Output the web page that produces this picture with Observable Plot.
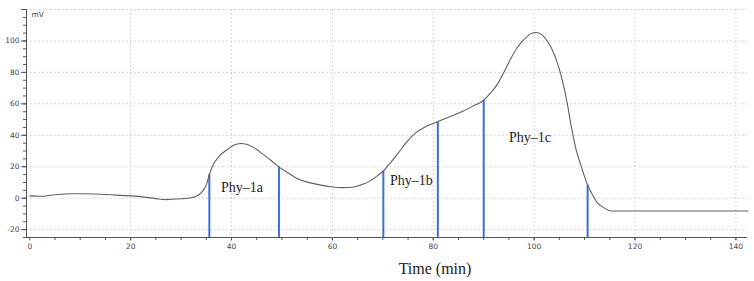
<!DOCTYPE html>
<html>
<head>
<meta charset="utf-8">
<script src="https://cdn.jsdelivr.net/npm/d3@7"></script>
<script src="https://cdn.jsdelivr.net/npm/@observablehq/plot@0.6"></script>
<style>
  html, body { margin: 0; padding: 0; background: #fff; }
  #wrap { position: relative; width: 754px; height: 281px; }
  #xtitle {
    position: absolute; left: 435px; top: 260px; transform: translateX(-50%);
    font-family: "Liberation Serif", serif; font-size: 16px; color: #222; white-space: nowrap;
  }
</style>
</head>
<body>
<div id="wrap">
  <div id="chart"></div>
  <div id="xtitle">Time (min)</div>
</div>
<script>
// Detector trace (retention time in min, signal in mV)
const time = [0, 2, 5, 8, 10, 14, 18, 22, 25, 27, 30, 32, 33, 34, 35, 35.6, 36.5, 37.5, 39, 40.5,
  41.8, 43, 44.5, 46, 48, 49.4, 51, 53, 55, 57, 59.6, 62, 64, 66, 67.5, 69, 70.1, 71.5, 73, 74.8,
  76.5, 78.2, 80, 80.9, 83, 86, 88, 90, 91.5, 92.7, 94, 95.3, 96.5, 98, 99.3, 100.4, 101.5, 102.6,
  103.5, 104.9, 105.8, 106.6, 107.4, 108.3, 109.2, 110.6, 111.5, 112.5, 113.8, 115.2, 142.4];
const signal = [1.5, 1.2, 2.2, 2.8, 2.8, 2.5, 1.8, 1.0, -0.3, -0.9, -0.4, 0.3, 1.2, 3.5, 8.5, 15, 22, 26.5, 30.5, 33.8,
  34.8, 34.3, 32, 28.5, 23.5, 19.9, 16.5, 12.5, 10.2, 8.8, 7.3, 6.7, 7.0, 8.8, 11, 14.5, 17.3, 22.5, 28.5, 36,
  41.5, 45, 47.5, 48.7, 51.5, 55.5, 58.8, 62.3, 67.5, 72.4, 80, 88.3, 95, 101, 104.5, 105.4, 104, 100,
  95, 83, 72, 59.7, 45, 31, 21.6, 8.4, 2.5, -2.8, -6, -8.1, -8.1];

// Fraction cut points and the trace level at each cut
const cutTime = [35.6, 49.4, 70.1, 80.9, 90.0, 110.6];
const cutSignal = [15, 19.9, 17.3, 48.7, 62.3, 8.4];

// Fraction names and where they are written (min, mV)
const fractionName = ["Phy\u20131a", "Phy\u20131b", "Phy\u20131c"];
const fractionTime = [37.9, 71.4, 95.0];
const fractionSignal = [6.5, 11, 38.5];

const xTicksMajor = [0, 20, 40, 60, 80, 100, 120, 140];
const yTicksMajor = [-20, 0, 20, 40, 60, 80, 100, 120];

const trace = time.map((t, i) => ({t, v: signal[i]}));
const cuts = cutTime.map((t, i) => ({t, v: cutSignal[i]}));
const fractions = fractionName.map((name, i) => ({name, t: fractionTime[i], v: fractionSignal[i]}));

const xDomain = [-0.65, 142.3];
const yDomain = [-25, 120];
const tickFont = {fontFamily: "DejaVu Sans, sans-serif", fontSize: 7.5};

const chart = Plot.plot({
  width: 754,
  height: 254,
  marginLeft: 26,
  marginRight: 7,
  marginTop: 9,
  marginBottom: 17,
  x: {domain: xDomain},
  y: {domain: yDomain},
  style: {fontFamily: "DejaVu Sans, sans-serif", fontSize: "7.5px", color: "#444", background: "#fff"},
  marks: [
    Plot.gridX(d3.range(20, 141, 20), {stroke: "#c8c8c8", strokeOpacity: 1, strokeDasharray: "1.5,2.5"}),
    Plot.gridY(d3.range(-20, 121, 20), {stroke: "#c8c8c8", strokeOpacity: 1, strokeDasharray: "1.5,2.5"}),
    // axis lines
    Plot.ruleX([xDomain[0]], {stroke: "#555", strokeWidth: 1}),
    Plot.ruleY([yDomain[0]], {stroke: "#555", strokeWidth: 1}),
    // minor and major ticks
    Plot.axisX({ticks: d3.range(5, 141, 5), tickSize: 3, tickFormat: () => "", stroke: "#555", label: null}),
    Plot.axisX({ticks: xTicksMajor, tickSize: 3.5, tickPadding: 3, stroke: "#555", fill: "#444", label: null, ...tickFont}),
    Plot.axisY({ticks: d3.range(-25, 121, 5), tickSize: 3, tickFormat: () => "", stroke: "#555", label: null}),
    Plot.axisY({ticks: yTicksMajor, tickSize: 5, tickPadding: 2, stroke: "#555", fill: "#444", label: null,
      tickFormat: d => d === 120 ? "" : d, ...tickFont}),
    Plot.text(["mV"], {frameAnchor: "top-left", dx: 5, dy: 2, fill: "#444", fontSize: 7.5, textAnchor: "start"}),
    // fraction cut lines
    Plot.ruleX(cuts, {x: "t", y1: () => yDomain[0], y2: "v", stroke: "#3B6FD6", strokeWidth: 2}),
    // detector trace
    Plot.line(trace, {x: "t", y: "v", stroke: "#606060", strokeWidth: 1.1, curve: "monotone-x"}),
    // fraction names
    Plot.text(fractions, {x: "t", y: "v", text: "name", textAnchor: "start", fill: "#222",
      fontFamily: "Liberation Serif, serif", fontSize: 14})
  ]
});
document.getElementById("chart").appendChild(chart);
</script>
</body>
</html>
